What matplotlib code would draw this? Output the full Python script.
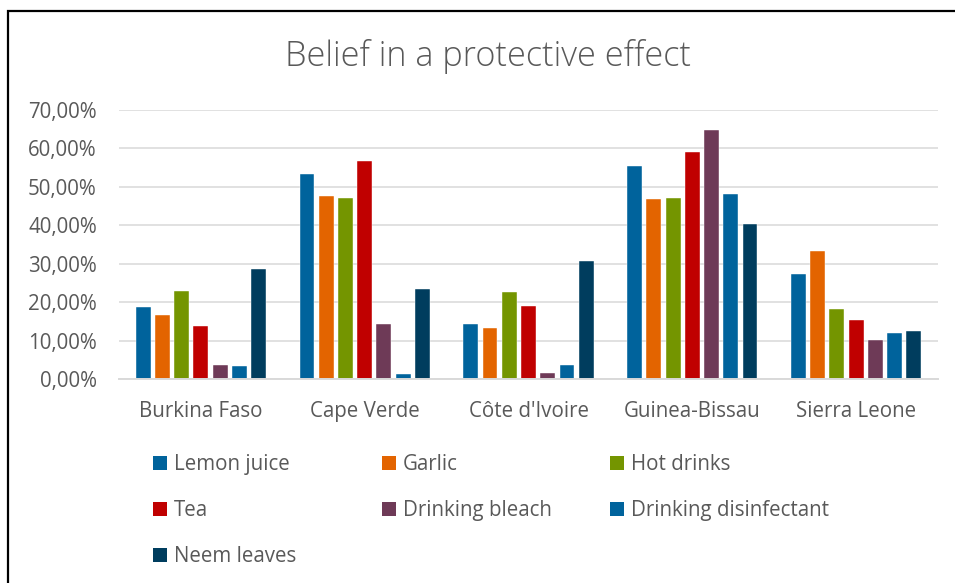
import matplotlib.pyplot as plt
from matplotlib.patches import Rectangle, Patch
from matplotlib.ticker import FuncFormatter
import numpy as np

plt.rcParams['font.family'] = ['Open Sans', 'DejaVu Sans']

countries = ["Burkina Faso", "Cape Verde", "Côte d'Ivoire", "Guinea-Bissau", "Sierra Leone"]
series = ["Lemon juice", "Garlic", "Hot drinks", "Tea", "Drinking bleach",
          "Drinking disinfectant", "Neem leaves"]

# values in percent, one list per series (order follows countries)
lemon_juice = [18.7, 53.4, 14.2, 55.5, 27.3]
garlic = [16.7, 47.7, 13.2, 46.8, 33.2]
hot_drinks = [23.0, 47.0, 22.6, 47.2, 18.2]
tea = [13.7, 56.7, 19.0, 59.2, 15.4]
drinking_bleach = [3.6, 14.2, 1.5, 64.7, 10.1]
drinking_disinfectant = [3.3, 1.3, 3.6, 48.1, 12.0]
neem_leaves = [28.6, 23.5, 30.7, 40.4, 12.5]

values = [lemon_juice, garlic, hot_drinks, tea, drinking_bleach,
          drinking_disinfectant, neem_leaves]
colors = ["#00639C", "#E36400", "#749500", "#C00000", "#6E3A57", "#00639C", "#003D5E"]

text_col = "#595959"
grid_col = "#D9D9D9"

fig = plt.figure(figsize=(9.55, 5.83), dpi=100)
ax = fig.add_axes([119 / 955, 1 - 379 / 583, (938 - 119) / 955, (379 - 110) / 583])

x = np.arange(len(countries))
step = 0.1174
width = 0.091
for i, (vals, c) in enumerate(zip(values, colors)):
    ax.bar(x + (i - 3) * step, np.array(vals) / 100, width, color=c,
           edgecolor='white', linewidth=0.3, zorder=3)

ax.set_xlim(-0.5, len(countries) - 0.5)
ax.set_ylim(0, 0.7)
ax.set_yticks(np.arange(0, 0.71, 0.1))
ax.yaxis.set_major_formatter(FuncFormatter(lambda v, p: f"{v * 100:.2f}%".replace('.', ',')))
ax.set_xticks(x)
ax.set_xticklabels(countries)

ax.grid(axis='y', color=grid_col, linewidth=1.1, zorder=0)
for s in ['top', 'right', 'left']:
    ax.spines[s].set_visible(False)
ax.spines['bottom'].set_color(grid_col)
ax.spines['bottom'].set_linewidth(1.4)
ax.spines['bottom'].set_zorder(4)
ax.tick_params(axis='both', length=0, labelsize=14.8, labelcolor=text_col)
ax.tick_params(axis='y', pad=16)
ax.tick_params(axis='x', pad=16)

fig.text(488 / 955, 1 - 56 / 583, "Belief in a protective effect", ha='center', va='center',
         fontsize=24.7, color=text_col, fontweight='light')

# legend: three columns like the original
handles = [Patch(facecolor=c) for c in colors]
col_x = [153, 382, 610]
for k in range(3):
    idx = list(range(k, len(series), 3))
    leg = fig.legend([handles[i] for i in idx], [series[i] for i in idx],
                     loc='upper left', bbox_to_anchor=(col_x[k] / 955, 1 - 454 / 583),
                     frameon=False, fontsize=14.8, handlelength=0.7, handleheight=0.7,
                     handletextpad=0.3, labelspacing=1.22, borderpad=0, borderaxespad=0)
    for t in leg.get_texts():
        t.set_color(text_col)

# chart border (right and bottom edges fall outside the image)
fig.add_artist(Rectangle((8 / 955, -0.1), 1.2, 1 - 11.5 / 583 + 0.1,
                         transform=fig.transFigure, fill=False,
                         edgecolor='black', linewidth=1.6))

fig.savefig("out.png", dpi=100)
